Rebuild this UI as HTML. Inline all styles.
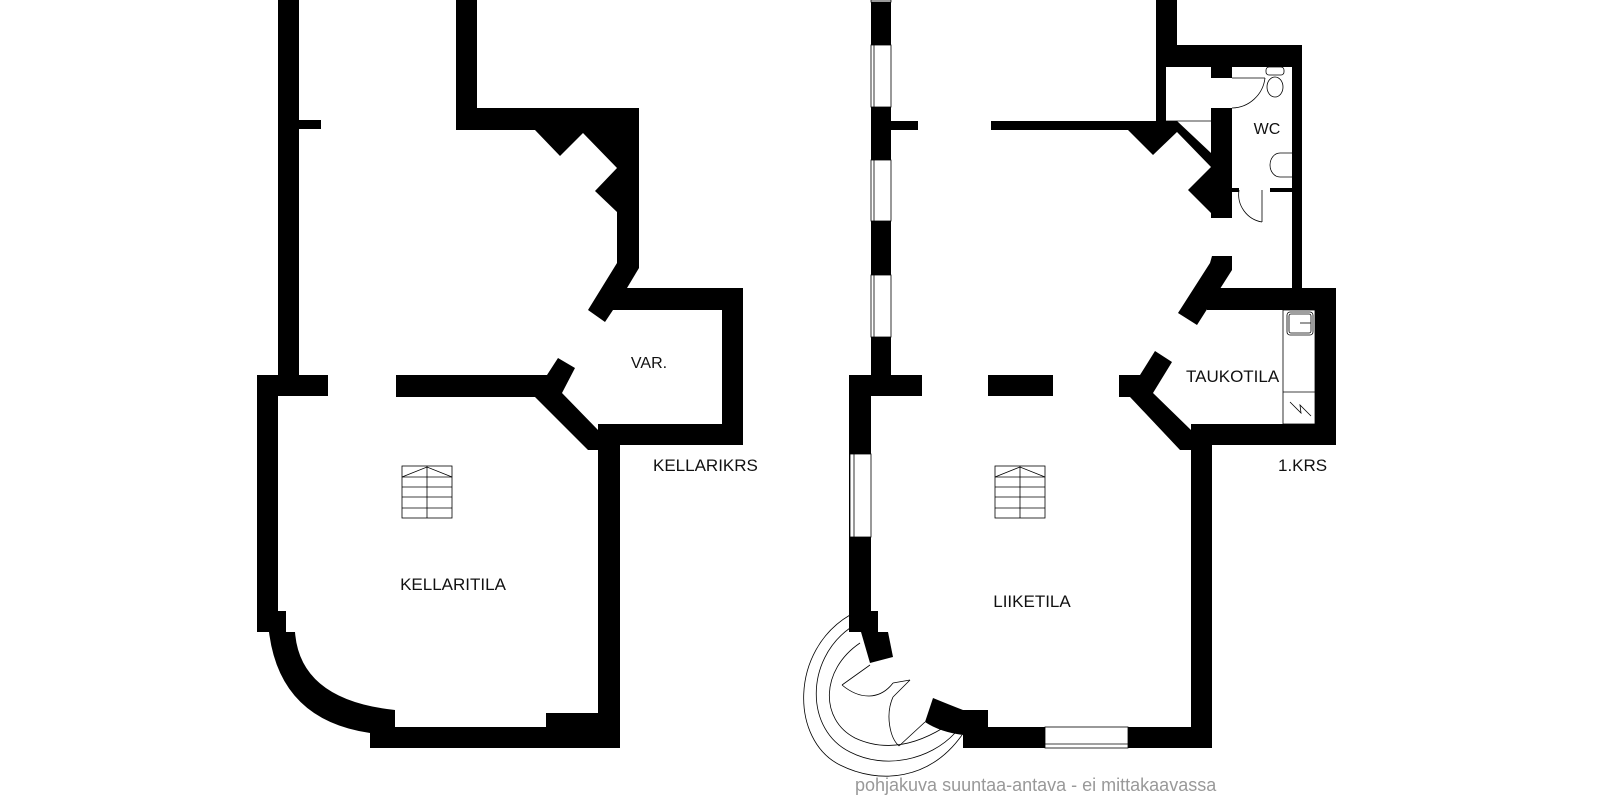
<!DOCTYPE html>
<html><head><meta charset="utf-8"><style>
html,body{margin:0;padding:0;background:#fff;}
svg{display:block;}
text{font-family:"Liberation Sans",Arial,sans-serif;fill:#111;}
</style></head><body>
<svg width="1600" height="810" viewBox="0 0 1600 810" xmlns="http://www.w3.org/2000/svg">
<g fill="#000">
<!-- LEFT PLAN -->
<rect x="278" y="0" width="21" height="396"/>
<rect x="299" y="120" width="22" height="9"/>
<rect x="257" y="375" width="71" height="21"/>
<rect x="257" y="375" width="21" height="257"/>
<polygon points="278,611 286,611 286,632 257,632 257,611"/>
<path d="M269,632 L295,632 Q300,700 395,710 L395,748 L370,748 L370,733 Q280,720 269,632 Z"/>
<rect x="370" y="727" width="250" height="21"/>
<rect x="546" y="713" width="74" height="20"/>
<rect x="598" y="424" width="22" height="324"/>
<polygon points="396,375 547,375 558,358 575,368 562,393 598,430 598,450 588,450 535,397 396,397"/>
<polygon points="456,0 477,0 477,108 639,108 639,268 627,288 743,288 743,445 598,445 598,424 722,424 722,310 613,310 605,322 588,310 617,263 617,212 595,191 617,168 583,133 560,156 535,130 456,130"/>
<!-- RIGHT PLAN -->
<rect x="871" y="0" width="20" height="396"/>
<rect x="891" y="121" width="27" height="9"/>
<rect x="849" y="375" width="73" height="21"/>
<rect x="849" y="375" width="22" height="257"/>
<polygon points="871,611 878,611 878,632 849,632 849,611"/>
<polygon points="861,632 888,632 893,657 870,663"/>
<path d="M933,698 Q950,705 963,710 L988,710 L988,735 L963,735 Q940,732 925,722 Z"/>
<rect x="963" y="727" width="249" height="21"/>
<rect x="1191" y="424" width="21" height="324"/>
<rect x="988" y="375" width="65" height="21"/>
<polygon points="1119,375 1140,375 1155,351 1172,362 1153,393 1191,430 1191,450 1180,450 1130,397 1119,397"/>
<polygon points="1178,313 1210,263 1212,256 1232,256 1232,270 1197,325"/>
<rect x="1207" y="288" width="129" height="22"/>
<rect x="1315" y="288" width="21" height="157"/>
<rect x="1191" y="424" width="145" height="21"/>
<!-- WC block -->
<rect x="1156" y="0" width="21" height="67"/>
<rect x="1156" y="45" width="146" height="22"/>
<rect x="1292" y="45" width="10" height="243"/>
<rect x="1156" y="45" width="10" height="85"/>
<rect x="991" y="121" width="175" height="9"/>
<rect x="1211" y="67" width="21" height="11"/>
<polygon points="1128,130 1153,155 1177,132 1211,167 1188,190 1211,213 1211,218 1232,218 1232,108 1211,108 1211,153 1177,121 1166,121 1166,130"/>
<rect x="1232" y="188" width="7" height="4"/>
<rect x="1270" y="188" width="22" height="4"/>
</g>
<g fill="#fff" stroke="#000" stroke-width="0.8">
<rect x="871" y="0" width="20" height="2"/>
<rect x="871" y="45" width="20" height="62"/>
<rect x="871" y="160" width="20" height="61"/>
<rect x="871" y="275" width="20" height="62"/>
<rect x="850" y="454" width="21" height="83"/>
<rect x="1045" y="727" width="83" height="21"/>
</g>
<g stroke="#000" stroke-width="0.8" fill="none">
<line x1="874" y1="45" x2="874" y2="107"/><line x1="874" y1="160" x2="874" y2="221"/><line x1="874" y1="275" x2="874" y2="337"/>
<line x1="854" y1="454" x2="854" y2="537"/>
<line x1="1045" y1="744" x2="1128" y2="744"/>
<line x1="1166" y1="121" x2="1211" y2="121"/>
<line x1="1232" y1="78" x2="1265" y2="78"/>
<path d="M1232,108 A34,34 0 0 0 1265,78"/>
<line x1="1262" y1="190" x2="1262" y2="222"/>
<path d="M1239,190 A28,28 0 0 0 1262,222"/>
<rect x="1266" y="67" width="18" height="8" rx="3"/>
<ellipse cx="1275" cy="87" rx="8" ry="10"/>
<path d="M1292,153 L1280,153 A10,12 0 0 0 1280,177 L1292,177"/>
<rect x="1283" y="310" width="32" height="114"/>
<line x1="1283" y1="392" x2="1315" y2="392"/>
<rect x="1287" y="312" width="26" height="23" rx="3"/>
<rect x="1289" y="314" width="22" height="19" rx="2"/>
<line x1="1300" y1="323" x2="1311" y2="323"/>
<polyline points="1290,402 1301,413 1300,405 1311,416"/>
<rect x="402" y="466" width="50" height="52"/>
<line x1="427" y1="466" x2="427" y2="518"/>
<line x1="402" y1="477" x2="452" y2="477"/><line x1="402" y1="487" x2="452" y2="487"/><line x1="402" y1="497" x2="452" y2="497"/><line x1="402" y1="508" x2="452" y2="508"/>
<polyline points="402,477 427,467 452,477"/>
<rect x="995" y="466" width="50" height="52"/>
<line x1="1020" y1="466" x2="1020" y2="518"/>
<line x1="995" y1="477" x2="1045" y2="477"/><line x1="995" y1="487" x2="1045" y2="487"/><line x1="995" y1="497" x2="1045" y2="497"/><line x1="995" y1="508" x2="1045" y2="508"/>
<polyline points="995,477 1020,467 1045,477"/>
<path d="M850,615 C790,650 790,740 840,765 C880,785 930,780 962,735"/>
<path d="M850,628 C805,660 805,730 850,752 C885,770 930,760 955,733"/>
<path d="M860,643 C820,670 820,720 855,738 C885,752 915,745 943,728"/>
<line x1="870" y1="665" x2="842" y2="685"/>
<path d="M842,685 C860,700 880,700 893,683"/>
<line x1="893" y1="683" x2="910" y2="680"/>
<line x1="910" y1="680" x2="893" y2="697"/>
<path d="M893,697 C885,715 890,738 899,746"/>
<line x1="899" y1="746" x2="925" y2="722"/>
</g>
<text x="453" y="590" font-size="17" text-anchor="middle">KELLARITILA</text>
<text x="649" y="368" font-size="16" text-anchor="middle">VAR.</text>
<text x="653" y="471" font-size="17">KELLARIKRS</text>
<text x="1032" y="607" font-size="17" text-anchor="middle">LIIKETILA</text>
<text x="1267" y="134" font-size="16" text-anchor="middle">WC</text>
<text x="1186" y="382" font-size="17">TAUKOTILA</text>
<text x="1278" y="471" font-size="17">1.KRS</text>
<text x="855" y="791" font-size="18" style="fill:#999">pohjakuva suuntaa-antava - ei mittakaavassa</text>
</svg>
</body></html>
